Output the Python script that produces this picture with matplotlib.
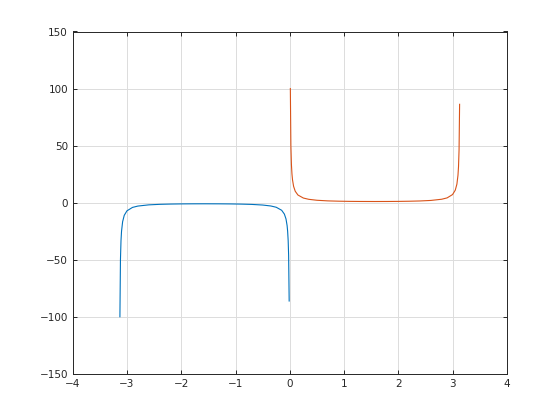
import matplotlib
matplotlib.use('Agg')
import matplotlib.pyplot as plt

# values (left branch and right branch)
left_x = [-3.1316, -3.1216, -3.1116, -3.1016, -3.0816, -3.0516, -3.0016, -2.9, -2.8, -2.6,
          -2.4, -2.2, -2.0, -1.8, -1.5708, -1.3, -1.1, -0.9, -0.7, -0.5,
          -0.35, -0.25, -0.15, -0.1, -0.07, -0.05, -0.04, -0.03, -0.0216, -0.0116]
left_y = [-100.0, -50.0, -33.3, -25.0, -16.7, -11.1, -7.17, -4.18, -2.99, -1.94,
          -1.48, -1.24, -1.10, -1.03, -1.0, -1.04, -1.12, -1.28, -1.55, -2.09,
          -2.92, -4.04, -6.69, -10.02, -14.3, -20.0, -25.0, -33.3, -46.3, -86.2]

right_x = [0.01, 0.02, 0.03, 0.04, 0.05, 0.07, 0.1, 0.15, 0.25, 0.35,
           0.5, 0.7, 0.9, 1.1, 1.3, 1.57, 1.8, 2.0, 2.2, 2.4,
           2.6, 2.8, 2.9, 3.0, 3.05, 3.08, 3.1, 3.11, 3.12, 3.13]
right_y = [100.0, 50.0, 33.3, 25.0, 20.0, 14.3, 10.0, 6.69, 4.04, 2.92,
           2.09, 1.55, 1.28, 1.12, 1.04, 1.0, 1.03, 1.10, 1.24, 1.48,
           1.94, 2.99, 4.18, 7.09, 10.93, 16.2, 24.0, 31.6, 46.3, 86.2]

xticks = [-4, -3, -2, -1, 0, 1, 2, 3, 4]
yticks = [-150, -100, -50, 0, 50, 100, 150]

fig = plt.figure(figsize=(5.6, 4.2), dpi=100)
ax = fig.add_axes([0.13, 0.11, 0.775, 0.815])

ax.plot(left_x, left_y, color='#0072BD', lw=0.8)
ax.plot(right_x, right_y, color='#D95319', lw=0.8)

ax.set_xlim(-4, 4)
ax.set_ylim(-150, 150)
ax.set_xticks(xticks)
ax.set_yticks(yticks)
ax.grid(True, color='#dcdcdc', lw=0.7)
ax.set_axisbelow(True)
ax.tick_params(direction='in', length=3, width=0.7, top=True, right=True,
               labelsize=7.5, labelcolor='#262626', color='#262626')
for s in ax.spines.values():
    s.set_color('#262626')
    s.set_linewidth(0.7)

fig.savefig('out.png', dpi=100)
